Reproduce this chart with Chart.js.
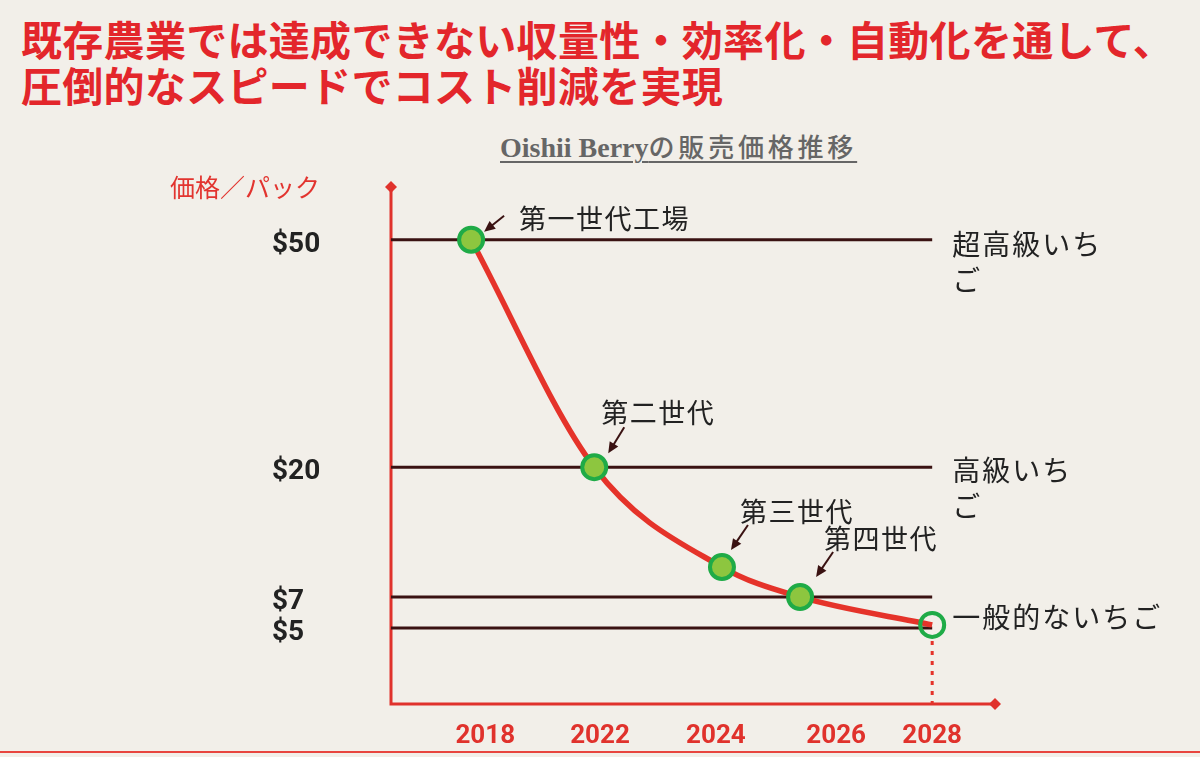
<!DOCTYPE html>
<html lang="ja">
<head>
<meta charset="utf-8">
<title>Oishii Berryの販売価格推移</title>
<script src="https://cdn.jsdelivr.net/npm/chart.js@4.4.1/dist/chart.umd.min.js"></script>
<style>
  html, body { margin: 0; padding: 0; background: #f2efe9; }
  body { width: 1200px; height: 757px; position: relative; overflow: hidden; font-family: 'Noto Sans CJK JP', sans-serif; }
  h1 { position: absolute; left: 21px; top: 15px; margin: 0; font-size: 41px; line-height: 46px; font-weight: 700; color: #e3262b; white-space: nowrap; letter-spacing: 0.3px; }
  .subtitle { position: absolute; left: 500px; top: 127px; line-height: 34px; color: #666; white-space: nowrap;
              text-decoration: underline; text-decoration-thickness: 2px; text-underline-offset: 4px; }
  .subtitle .latin { font: bold 28px 'Liberation Serif', serif; }
  .subtitle .cjk { font: 500 26px 'Noto Sans CJK JP', sans-serif; letter-spacing: 3.8px; }
  .rule { position: absolute; left: 0; top: 751px; width: 1200px; height: 2px; background: #e8453f; }
  #wrap { position: absolute; left: 0; top: 0; width: 1200px; height: 757px; }
</style>
</head>
<body>
<h1>既存農業では達成できない収量性・効率化・自動化を通して、<br>圧倒的なスピードでコスト削減を実現</h1>
<div class="subtitle"><span class="latin">Oishii Berry</span><span class="cjk">の販売価格推移</span></div>
<div id="wrap"><canvas id="priceChart"></canvas></div>
<div class="rule"></div>
<script>
// ---- data -------------------------------------------------------------
const yearTicks = [2018, 2022, 2024, 2026, 2028];
const priceTicks = [50, 20, 7, 5];
const stageNames = ['第一世代工場', '第二世代', '第三世代', '第四世代', ''];
const stageYear = [2017.7, 2021.8, 2024.1, 2025.4, 2028];
const stagePrice = [50, 20, 10, 7, 5.2];
const tierNames = ['超高級いちご', '高級いちご', '', '一般的ないちご'];

// ---- look -------------------------------------------------------------
const AXIS_RED = '#e0322c';
const CURVE_RED = '#e5332a';
const LEVEL_DARK = '#3a1212';
const GREEN_FILL = '#8dc63f';
const GREEN_RING = '#1fab47';
const TEXT = '#222';

// the original axes are schematic, so each tick sits at its own spot along the axis
const axisStops = {
    x: [[2016, 0], [2018, 0.156], [2022, 0.346], [2024, 0.538], [2026, 0.737], [2028, 0.896], [2030, 1]],
    y: [[0, 0], [5, 0.147], [7, 0.207], [20, 0.458], [50, 0.898], [60, 1]]
};

// arrow tail, arrow tip and text anchor, in px relative to each point
const stageNotes = [
    { tail: [33, -24], tip: [13, -8], text: [48, -21] },
    { tail: [30, -40], tip: [14, -14], text: [7, -54] },
    { tail: [26, -42], tip: [9, -17], text: [18, -55] },
    { tail: [33, -45], tip: [16, -20], text: [24, -58] },
    null
];
const tierNotes = [{ dy: 5, wrap: 165 }, { dy: 3, wrap: 135 }, null, { dy: -11, wrap: 280 }];

class StopScale extends Chart.LinearScale {
    toDecimal(v) {
        const s = axisStops[this.id];
        if (v <= s[0][0]) return s[0][1];
        for (let i = 1; i < s.length; i++) {
            if (v <= s[i][0]) {
                const [v0, f0] = s[i - 1];
                const [v1, f1] = s[i];
                return f0 + (v - v0) / (v1 - v0) * (f1 - f0);
            }
        }
        return s[s.length - 1][1];
    }
    getPixelForValue(value) {
        if (value === null || value === undefined || isNaN(value)) return NaN;
        return this.getPixelForDecimal(this.toDecimal(value));
    }
    getValueForPixel(pixel) {
        const d = this.getDecimalForPixel(pixel);
        const s = axisStops[this.id];
        for (let i = 1; i < s.length; i++) {
            if (d <= s[i][1]) {
                const [v0, f0] = s[i - 1];
                const [v1, f1] = s[i];
                return v0 + (d - f0) / (f1 - f0) * (v1 - v0);
            }
        }
        return s[s.length - 1][0];
    }
}
StopScale.id = 'stops';
StopScale.defaults = Chart.LinearScale.defaults;
Chart.register(StopScale);

function drawArrow(ctx, x1, y1, x2, y2) {
    const ang = Math.atan2(y2 - y1, x2 - x1);
    const head = 11, half = 5;
    ctx.beginPath();
    ctx.moveTo(x1, y1);
    ctx.lineTo(x2 - Math.cos(ang) * head * 0.7, y2 - Math.sin(ang) * head * 0.7);
    ctx.stroke();
    ctx.beginPath();
    ctx.moveTo(x2, y2);
    ctx.lineTo(x2 - head * Math.cos(ang) + half * Math.sin(ang), y2 - head * Math.sin(ang) - half * Math.cos(ang));
    ctx.lineTo(x2 - head * Math.cos(ang) - half * Math.sin(ang), y2 - head * Math.sin(ang) + half * Math.cos(ang));
    ctx.closePath();
    ctx.fill();
}

function drawDiamond(ctx, x, y, r) {
    ctx.beginPath();
    ctx.moveTo(x, y - r);
    ctx.lineTo(x + r, y);
    ctx.lineTo(x, y + r);
    ctx.lineTo(x - r, y);
    ctx.closePath();
    ctx.fill();
}

function wrapChars(ctx, text, maxW) {
    const lines = [];
    let cur = '';
    for (const ch of text) {
        if (cur && ctx.measureText(cur + ch).width > maxW) {
            lines.push(cur);
            cur = ch;
        } else {
            cur += ch;
        }
    }
    if (cur) lines.push(cur);
    return lines;
}

const decorPlugin = {
    id: 'decor',
    beforeDatasetsDraw(chart) {
        const { ctx, chartArea: a } = chart;
        ctx.save();
        // axes with diamond ends
        ctx.strokeStyle = AXIS_RED;
        ctx.fillStyle = AXIS_RED;
        ctx.lineWidth = 3;
        ctx.beginPath();
        ctx.moveTo(a.left, a.top);
        ctx.lineTo(a.left, a.bottom);
        ctx.lineTo(a.right, a.bottom);
        ctx.stroke();
        drawDiamond(ctx, a.left, a.top, 6);
        drawDiamond(ctx, a.right, a.bottom, 6);

        // dotted drop from the last point to the year axis
        const pts = chart.getDatasetMeta(0).data;
        const last = pts[pts.length - 1];
        ctx.strokeStyle = CURVE_RED;
        ctx.setLineDash([4, 6]);
        ctx.beginPath();
        ctx.moveTo(last.x, last.y + 16);
        ctx.lineTo(last.x, a.bottom);
        ctx.stroke();
        ctx.restore();
    },
    afterDatasetsDraw(chart) {
        const { ctx } = chart;
        const xs = chart.scales.x, ys = chart.scales.y;
        const pts = chart.getDatasetMeta(0).data;
        ctx.save();

        // y axis title
        ctx.fillStyle = '#e2342f';
        ctx.font = '25px "Noto Sans CJK JP"';
        ctx.textBaseline = 'middle';
        ctx.textAlign = 'left';
        ctx.fillText('価格／パック', 170, 187);

        // stage labels with arrows
        ctx.font = '27px "Noto Sans CJK JP"';
        ctx.letterSpacing = '1.5px';
        pts.forEach((p, i) => {
            const note = stageNotes[i];
            if (!note || !stageNames[i]) return;
            ctx.fillStyle = TEXT;
            ctx.fillText(stageNames[i], p.x + note.text[0], p.y + note.text[1]);
            ctx.strokeStyle = LEVEL_DARK;
            ctx.fillStyle = LEVEL_DARK;
            ctx.lineWidth = 2;
            drawArrow(ctx, p.x + note.tail[0], p.y + note.tail[1], p.x + note.tip[0], p.y + note.tip[1]);
        });

        // tier names at the right end of each price line
        ctx.fillStyle = TEXT;
        ctx.font = '28px "Noto Sans CJK JP"';
        ctx.letterSpacing = '2px';
        const xEnd = xs.getPixelForValue(stageYear[stageYear.length - 1]);
        priceTicks.forEach((price, i) => {
            const note = tierNotes[i];
            if (!note || !tierNames[i]) return;
            const lines = wrapChars(ctx, tierNames[i], note.wrap);
            const y0 = ys.getPixelForValue(price) + note.dy;
            lines.forEach((line, k) => ctx.fillText(line, xEnd + 20, y0 + k * 36));
        });
        ctx.restore();
    }
};

const levelSets = priceTicks.map(price => ({
    data: [{ x: 2016, y: price }, { x: stageYear[stageYear.length - 1], y: price }],
    borderColor: LEVEL_DARK,
    borderWidth: 3,
    pointRadius: 0,
    order: 2
}));

const lastIdx = stagePrice.length - 1;

new Chart(document.getElementById('priceChart'), {
    type: 'line',
    data: {
        datasets: [{
            data: stageYear.map((yr, i) => ({ x: yr, y: stagePrice[i] })),
            borderColor: CURVE_RED,
            borderWidth: 5.5,
            cubicInterpolationMode: 'monotone',
            pointRadius: 12,
            pointBorderWidth: 4,
            pointBorderColor: GREEN_RING,
            pointBackgroundColor: stagePrice.map((_, i) => i === lastIdx ? 'rgba(0,0,0,0)' : GREEN_FILL),
            order: 0
        }, ...levelSets]
    },
    options: {
        responsive: true,
        maintainAspectRatio: false,
        animation: false,
        events: [],
        layout: { padding: { left: 272, top: 187, right: 205, bottom: 8 } },
        plugins: { legend: { display: false }, tooltip: { enabled: false } },
        scales: {
            x: {
                type: 'stops',
                min: 2016,
                max: 2030,
                grid: { display: false, drawTicks: false },
                border: { display: false },
                afterBuildTicks: s => { s.ticks = yearTicks.map(v => ({ value: v })); },
                afterFit: s => { s.height = 45; },
                ticks: {
                    autoSkip: false,
                    maxRotation: 0,
                    padding: 17,
                    color: '#e0322c',
                    font: { family: 'Roboto', size: 26, weight: 'bold' },
                    callback: v => String(v)
                }
            },
            y: {
                type: 'stops',
                min: 0,
                max: 60,
                grid: { display: false, drawTicks: false },
                border: { display: false },
                afterBuildTicks: s => { s.ticks = priceTicks.map(v => ({ value: v })); },
                afterFit: s => { s.width = 119; },
                ticks: {
                    crossAlign: 'far',
                    labelOffset: 5,
                    color: TEXT,
                    font: { family: 'Roboto', size: 28, weight: 'bold' },
                    callback: v => '$' + v
                }
            }
        }
    },
    plugins: [decorPlugin]
});
</script>
</body>
</html>
